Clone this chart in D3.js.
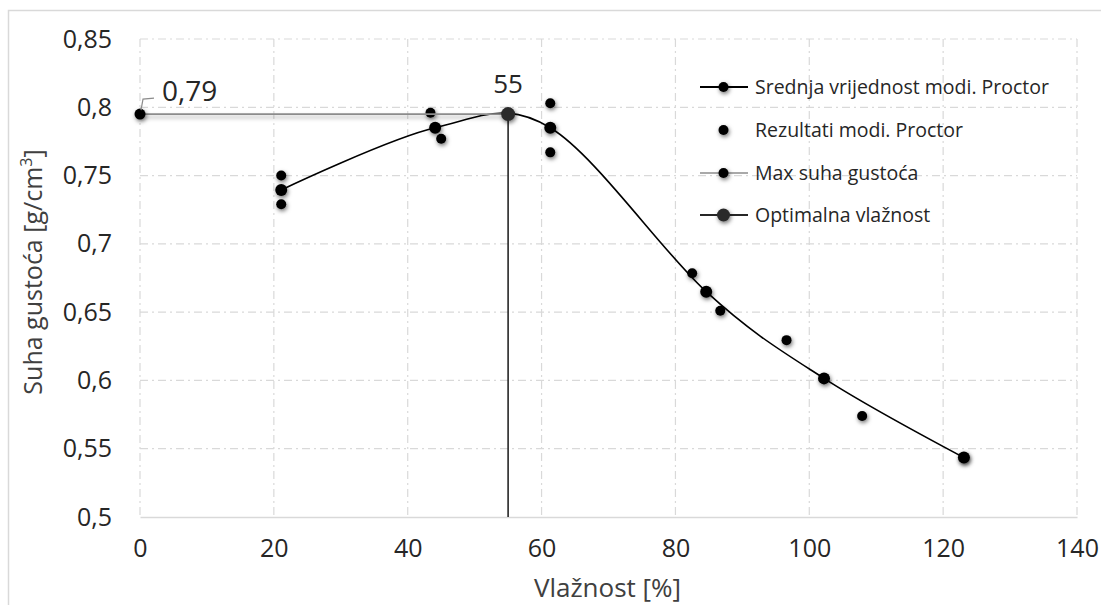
<!DOCTYPE html>
<html>
<head>
<meta charset="utf-8">
<script src="https://cdn.jsdelivr.net/npm/d3@7"></script>
<style>
  html, body { margin: 0; padding: 0; background: #fff; }
  svg { display: block; font-family: "Open Sans", sans-serif; }
</style>
</head>
<body>
<svg id="chart" width="1101" height="605"></svg>
<script>
// ---- Data ----
const meanX = [21.1, 44.1, 61.3, 84.6, 102.2, 123.1];
const meanY = [0.7395, 0.785, 0.785, 0.665, 0.6015, 0.5435];

const resultX = [21.1, 21.1, 43.4, 45.0, 61.3, 61.3, 82.5, 86.7, 96.6, 107.9, 123.1];
const resultY = [0.750, 0.729, 0.796, 0.777, 0.803, 0.767, 0.6785, 0.651, 0.6295, 0.574, 0.5435];

const maxX = [0, 55];
const maxY = [0.795, 0.795];

const optX = [55, 55];
const optY = [0.5, 0.795];

const xTicks = [0, 20, 40, 60, 80, 100, 120, 140];
const yTicks = [0.5, 0.55, 0.6, 0.65, 0.7, 0.75, 0.8, 0.85];

const seriesNames = ["Srednja vrijednost modi. Proctor", "Rezultati modi. Proctor", "Max suha gustoća", "Optimalna vlažnost"];
const maxLabel = "0,79";
const optLabel = "55";
const xTitle = "Vlažnost [%]";
const yTitle = "Suha gustoća [g/cm";

(function () {
// ---- Layout ----
const svg = d3.select("#chart");
const pL = 140, pR = 1077, pT = 39, pB = 517;
const x = d3.scaleLinear().domain([0, 140]).range([pL, pR]);
const y = d3.scaleLinear().domain([0.5, 0.85]).range([pB, pT]);
const fmt = v => String(v).replace(".", ",");

// shadow filters
const defs = svg.append("defs");
const f = defs.append("filter").attr("id", "sh").attr("x", "-100%").attr("y", "-100%").attr("width", "300%").attr("height", "300%");
f.append("feDropShadow").attr("dx", 1).attr("dy", 2).attr("stdDeviation", 2).attr("flood-color", "#000").attr("flood-opacity", 0.55);
const f2 = defs.append("filter").attr("id", "shl").attr("filterUnits", "userSpaceOnUse")
  .attr("x", 0).attr("y", 0).attr("width", 1101).attr("height", 605);
f2.append("feDropShadow").attr("dx", 0).attr("dy", 3).attr("stdDeviation", 2).attr("flood-color", "#000").attr("flood-opacity", 0.35);

// outer border
svg.append("rect").attr("x", 8.5).attr("y", 10.5).attr("width", 1110).attr("height", 620)
  .attr("fill", "none").attr("stroke", "#d9d9d9").attr("stroke-width", 1.5);

// gridlines
const grid = svg.append("g");
grid.append("g").selectAll("line").data(yTicks.filter(v => v > 0.5)).join("line")
  .attr("x1", pL).attr("x2", pR).attr("y1", d => y(d)).attr("y2", d => y(d))
  .attr("stroke", "#d9d9d9").attr("stroke-width", 1.2).attr("stroke-dasharray", "8,4,2,4");
grid.append("g").selectAll("line").data(xTicks).join("line")
  .attr("x1", d => x(d)).attr("x2", d => x(d)).attr("y1", pT).attr("y2", pB)
  .attr("stroke", "#d9d9d9").attr("stroke-width", 1.2).attr("stroke-dasharray", "8,4,2,4");

// x axis
const xAxis = svg.append("g").attr("transform", `translate(0,${pB})`)
  .call(d3.axisBottom(x).tickValues(xTicks).tickSize(0).tickPadding(22).tickFormat(d => fmt(d)));
xAxis.select(".domain").attr("stroke", "#d9d9d9").attr("stroke-width", 1.5);
xAxis.selectAll("text").attr("font-size", 25).attr("fill", "#262626").attr("font-family", "Open Sans");

// y axis
const yAxis = svg.append("g").attr("transform", `translate(${pL},0)`)
  .call(d3.axisLeft(y).tickValues(yTicks).tickSize(0).tickPadding(28).tickFormat(d => fmt(d)));
yAxis.select(".domain").remove();
yAxis.selectAll("text").attr("font-size", 25).attr("fill", "#262626").attr("font-family", "Open Sans");

// axis titles
svg.append("text").attr("x", (pL + pR) / 2 - 1).attr("y", 597).attr("text-anchor", "middle")
  .attr("font-size", 26).attr("fill", "#404040").text(xTitle);
const yt = svg.append("text").attr("transform", "translate(42,272) rotate(-90)").attr("text-anchor", "middle")
  .attr("font-size", 25).attr("fill", "#404040");
yt.append("tspan").text(yTitle);
yt.append("tspan").attr("font-size", 16).attr("dy", -10).text("3");
yt.append("tspan").attr("dy", 10).text("]");

// series 1: mean curve
const line = d3.line().x(d => x(d[0])).y(d => y(d[1])).curve(d3.curveCardinal.tension(0));
const meanPts = meanX.map((v, i) => [v, meanY[i]]);
svg.append("path").datum(meanPts).attr("d", line).attr("fill", "none")
  .attr("stroke", "#000").attr("stroke-width", 1.6);
svg.append("g").selectAll("circle").data(meanPts).join("circle")
  .attr("cx", d => x(d[0])).attr("cy", d => y(d[1])).attr("r", 6)
  .attr("fill", "#000").attr("filter", "url(#sh)");

// series 2: results
const resPts = resultX.map((v, i) => [v, resultY[i]]);
svg.append("g").selectAll("circle").data(resPts).join("circle")
  .attr("cx", d => x(d[0])).attr("cy", d => y(d[1])).attr("r", 5)
  .attr("fill", "#000").attr("filter", "url(#sh)");

// series 3: max dry density
const maxPts = maxX.map((v, i) => [v, maxY[i]]);
svg.append("path").datum(maxPts).attr("d", d3.line().x(d => x(d[0])).y(d => y(d[1])))
  .attr("fill", "none").attr("stroke", "#8c8c8c").attr("stroke-width", 1.8).attr("filter", "url(#shl)");
svg.append("circle").attr("cx", x(maxX[0])).attr("cy", y(maxY[0])).attr("r", 5.5)
  .attr("fill", "#000").attr("filter", "url(#sh)");

// label 0,79 with leader
const mx = x(maxX[0]), my = y(maxY[0]);
svg.append("path").attr("d", `M${mx + 1},${my - 4} L${mx + 3},${my - 15} L${mx + 14},${my - 16}`)
  .attr("fill", "none").attr("stroke", "#8c8c8c").attr("stroke-width", 1.2);
svg.append("text").attr("x", mx + 22).attr("y", my - 13).attr("font-size", 28).attr("fill", "#262626").text(maxLabel);

// series 4: optimum moisture
const optPts = optX.map((v, i) => [v, optY[i]]);
svg.append("path").datum(optPts).attr("d", d3.line().x(d => x(d[0])).y(d => y(d[1])))
  .attr("fill", "none").attr("stroke", "#262626").attr("stroke-width", 1.6);
svg.append("circle").attr("cx", x(optX[1])).attr("cy", y(optY[1])).attr("r", 7)
  .attr("fill", "#2b2b2b").attr("filter", "url(#sh)");
svg.append("text").attr("x", x(optX[1])).attr("y", y(optY[1]) - 21).attr("text-anchor", "middle")
  .attr("font-size", 26).attr("fill", "#262626").text(optLabel);

// legend
const lg = svg.append("g").attr("transform", "translate(700,0)");
const rowsY = [87, 130, 173, 215];
const styles = [
  {line: true, stroke: "#000", sw: 2, r: 5, fill: "#000"},
  {line: false, r: 5, fill: "#000"},
  {line: true, stroke: "#8c8c8c", sw: 1.5, r: 5, fill: "#000"},
  {line: true, stroke: "#262626", sw: 2, r: 6.5, fill: "#2b2b2b"}
];
seriesNames.forEach((name, i) => {
  const s = styles[i];
  if (s.line) lg.append("line").attr("x1", 0).attr("x2", 48).attr("y1", rowsY[i]).attr("y2", rowsY[i])
    .attr("stroke", s.stroke).attr("stroke-width", s.sw);
  lg.append("circle").attr("cx", 23.5).attr("cy", rowsY[i]).attr("r", s.r).attr("fill", s.fill).attr("filter", "url(#sh)");
  lg.append("text").attr("x", 55).attr("y", rowsY[i] + 7).attr("font-size", 19.5).attr("fill", "#262626").text(name);
});
})();
</script>
</body>
</html>
